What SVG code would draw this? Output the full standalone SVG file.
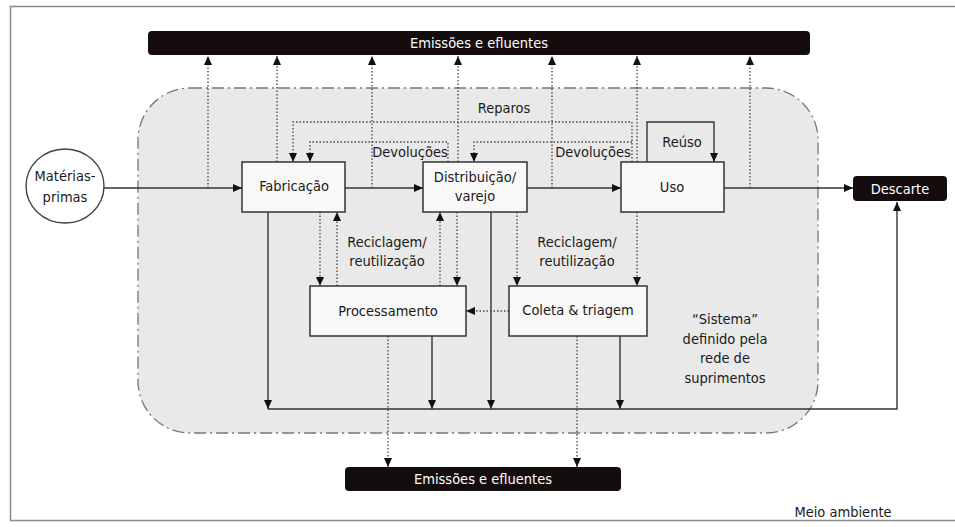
<svg xmlns="http://www.w3.org/2000/svg" width="955" height="527" viewBox="0 0 955 527">
  <defs>
    <marker id="ah" markerWidth="9" markerHeight="8" refX="9" refY="4" orient="auto" markerUnits="userSpaceOnUse">
      <path d="M0,0 L9,4 L0,8 Z" fill="#111"/>
    </marker>
    <style>
      text { font-family: "DejaVu Sans Condensed", "Liberation Sans", sans-serif; font-size: 14.5px; fill: #1a1a1a; text-anchor: middle; dominant-baseline: central; }
      .w { fill: #fff; }
      .box { fill: #f8f8f8; stroke: #333; stroke-width: 1.5; }
      .bar { fill: #150d0d; }
      .s { fill: none; stroke: #333; stroke-width: 1.4; marker-end: url(#ah); }
      .d { fill: none; stroke: #444; stroke-width: 1.3; stroke-dasharray: 1.5 2; marker-end: url(#ah); }
    </style>
  </defs>

  <rect x="10.5" y="6.5" width="960" height="514" fill="#fff" stroke="#8a8a8a" stroke-width="1.5"/>

  <g id="sistema">
    <rect x="138" y="88" width="680" height="345" rx="52" ry="52" fill="#e9e9e9" stroke="#777" stroke-width="1.3" stroke-dasharray="12 4 2 4"/>
    <text x="725" y="319">“Sistema”</text>
    <text x="725" y="339">definido pela</text>
    <text x="725" y="358">rede de</text>
    <text x="725" y="378">suprimentos</text>
  </g>

  <g id="emissoes-topo">
    <rect class="bar" x="148" y="31" width="662" height="24" rx="4"/>
    <text class="w" x="479" y="43">Emissões e efluentes</text>
  </g>
  <g id="emissoes-base">
    <rect class="bar" x="345" y="467" width="276" height="24" rx="4"/>
    <text class="w" x="483" y="479">Emissões e efluentes</text>
  </g>

  <g id="connectors">
    <path class="s" d="M104,188 H242"/>
    <path class="s" d="M345,188 H423"/>
    <path class="s" d="M527,188 H621"/>
    <path class="s" d="M724,188 H853"/>
    <path class="s" d="M647,162 V122 H714 V162"/>
    <path class="s" d="M268,212 V409"/>
    <path class="s" d="M432,336 V409"/>
    <path class="s" d="M491,212 V409"/>
    <path class="s" d="M620,336 V409"/>
    <path class="s" d="M268,409 H897 V202"/>
    <path class="d" d="M208,188 V56"/>
    <path class="d" d="M277,162 V56"/>
    <path class="d" d="M372,188 V56"/>
    <path class="d" d="M458,162 V56"/>
    <path class="d" d="M552,188 V56"/>
    <path class="d" d="M637,162 V56"/>
    <path class="d" d="M750,188 V56"/>
    <path class="d" d="M632,162 V122 H293 V162"/>
    <path class="d" d="M448,162 V142 H310 V162"/>
    <path class="d" d="M632,142 H474 V162"/>
    <path class="d" d="M320,212 V286"/>
    <path class="d" d="M337,286 V212"/>
    <path class="d" d="M440,286 V212"/>
    <path class="d" d="M457,212 V286"/>
    <path class="d" d="M517,212 V286"/>
    <path class="d" d="M637,212 V286"/>
    <path class="d" d="M509,311 H466"/>
    <path class="d" d="M388,336 V467"/>
    <path class="d" d="M577,336 V467"/>
  </g>

  <g id="labels">
    <text x="504" y="108">Reparos</text>
    <text x="410" y="152">Devoluções</text>
    <text x="593" y="152">Devoluções</text>
    <text x="682" y="142">Reúso</text>
    <text x="387" y="242">Reciclagem/</text>
    <text x="387" y="261">reutilização</text>
    <text x="577" y="242">Reciclagem/</text>
    <text x="577" y="261">reutilização</text>
  </g>

  <g id="materias-primas">
    <ellipse cx="65" cy="186" rx="39" ry="37" fill="#fff" stroke="#444" stroke-width="1.4"/>
    <text x="65" y="176">Matérias-</text>
    <text x="65" y="197">primas</text>
  </g>
  <g id="fabricacao">
    <rect class="box" x="242" y="162" width="103" height="50"/>
    <text x="294" y="186">Fabricação</text>
  </g>
  <g id="distribuicao">
    <rect class="box" x="423" y="162" width="104" height="50"/>
    <text x="475" y="177">Distribuição/</text>
    <text x="475" y="196">varejo</text>
  </g>
  <g id="uso">
    <rect class="box" x="621" y="162" width="103" height="50"/>
    <text x="672" y="187">Uso</text>
  </g>
  <g id="descarte">
    <rect class="bar" x="853" y="176" width="94" height="25" rx="4"/>
    <text class="w" x="900" y="189">Descarte</text>
  </g>
  <g id="processamento">
    <rect class="box" x="310" y="286" width="156" height="50"/>
    <text x="388" y="311">Processamento</text>
  </g>
  <g id="coleta">
    <rect class="box" x="509" y="286" width="138" height="50"/>
    <text x="578" y="310">Coleta &amp; triagem</text>
  </g>
  <g id="meio-ambiente">
    <text x="843" y="512">Meio ambiente</text>
  </g>
</svg>
